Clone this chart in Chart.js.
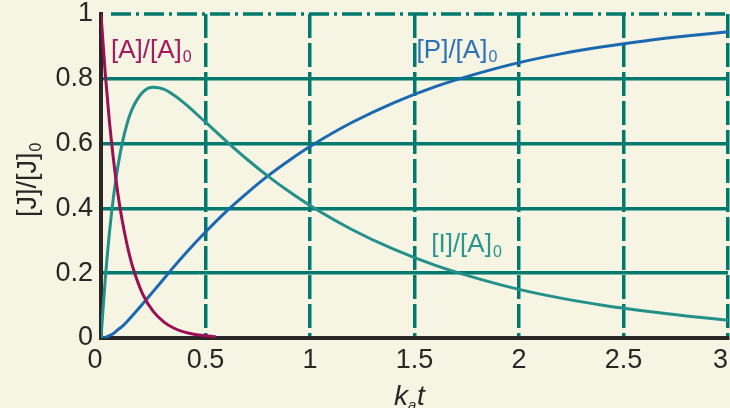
<!DOCTYPE html>
<html>
<head>
<meta charset="utf-8">
<script src="https://cdn.jsdelivr.net/npm/chart.js@4.4.1/dist/chart.umd.min.js"></script>
<style>
    html, body { margin: 0; padding: 0; background: #f6f4e2; }
    #wrap { width: 730px; height: 408px; }
</style>
</head>
<body>
<div id="wrap"><canvas id="kinetics" width="730" height="408"></canvas></div>
<script>
// values
const timesA = [0, 0.02, 0.04, 0.06, 0.08, 0.1, 0.125, 0.15, 0.2, 0.25, 0.3, 0.35, 0.4, 0.45, 0.5, 0.55];
const fracA = [1, 0.819, 0.67, 0.549, 0.449, 0.368, 0.287, 0.223, 0.135, 0.082, 0.05, 0.03, 0.018, 0.011, 0.007, 0.004];

const timesIP = [0, 0.02, 0.04, 0.06, 0.08, 0.1, 0.125, 0.15, 0.2, 0.25, 0.3, 0.35, 0.4, 0.5, 0.6, 0.7, 0.8, 0.9,
    1.0, 1.2, 1.4, 1.6, 1.8, 2.0, 2.2, 2.4, 2.6, 2.8, 3.0];
const fracI = [0, 0.179, 0.323, 0.437, 0.526, 0.597, 0.662, 0.708, 0.759, 0.774, 0.768, 0.749, 0.724, 0.666, 0.607,
    0.551, 0.499, 0.452, 0.409, 0.335, 0.274, 0.224, 0.184, 0.15, 0.123, 0.101, 0.083, 0.068, 0.055];
const fracP = [0, 0.002, 0.007, 0.014, 0.025, 0.035, 0.051, 0.069, 0.106, 0.144, 0.182, 0.221, 0.258, 0.327, 0.391,
    0.448, 0.501, 0.548, 0.591, 0.665, 0.726, 0.776, 0.816, 0.85, 0.877, 0.899, 0.917, 0.932, 0.945];

const xTickLabels = ['0', '0.5', '1', '1.5', '2', '2.5', '3'];
const yTickLabels = ['0', '0.2', '0.4', '0.6', '0.8', '1'];

const teal = '#007a6e';
const ink = '#2a2626';
const tickFont = '27px "Liberation Sans", Arial, sans-serif';

function toPoints(xs, ys) {
    return xs.map((x, i) => ({ x: x, y: ys[i] }));
}

// text with a small subscript "0" at the end
function drawSubText(ctx, text, sub, x, y, size, color) {
    ctx.fillStyle = color;
    ctx.font = size + 'px "Liberation Sans", Arial, sans-serif';
    ctx.textAlign = 'left';
    ctx.textBaseline = 'alphabetic';
    ctx.fillText(text, x, y);
    const w = ctx.measureText(text).width;
    ctx.font = Math.round(size * 0.6) + 'px "Liberation Sans", Arial, sans-serif';
    ctx.fillText(sub, x + w + 1, y + size * 0.18);
    return w;
}

const decorations = {
    id: 'decorations',
    beforeDatasetsDraw(chart) {
        const { ctx, chartArea, scales } = chart;
        // dash-dot line at y = 1
        const yTop = scales.y.getPixelForValue(1);
        ctx.save();
        ctx.strokeStyle = teal;
        ctx.lineWidth = 3.5;
        ctx.setLineDash([20, 5, 3, 5]);
        ctx.beginPath();
        ctx.moveTo(chartArea.left + 10, yTop);
        ctx.lineTo(chartArea.right, yTop);
        ctx.stroke();
        ctx.restore();
    },
    afterDraw(chart) {
        const { ctx, chartArea, scales } = chart;
        ctx.save();

        // x tick labels
        ctx.fillStyle = ink;
        ctx.font = tickFont;
        ctx.textBaseline = 'top';
        xTickLabels.forEach((lbl, i) => {
            let px = scales.x.getPixelForValue(parseFloat(lbl));
            ctx.textAlign = 'center';
            if (i === 0) px -= 6;
            if (i === xTickLabels.length - 1) ctx.textAlign = 'right';
            ctx.fillText(lbl, px, chartArea.bottom + 9);
        });

        // x title
        ctx.fillStyle = ink;
        ctx.font = 'italic 28px "Liberation Sans", Arial, sans-serif';
        ctx.textAlign = 'left';
        ctx.textBaseline = 'alphabetic';
        ctx.fillText('k', 394, 405);
        const kw = ctx.measureText('k').width;
        ctx.font = 'italic 15px "Liberation Sans", Arial, sans-serif';
        ctx.fillText('a', 394 + kw, 410);
        ctx.font = 'italic 28px "Liberation Sans", Arial, sans-serif';
        ctx.fillText('t', 417, 405);

        // y title
        ctx.save();
        ctx.translate(36, 217);
        ctx.rotate(-Math.PI / 2);
        drawSubText(ctx, '[J]/[J]', '0', 0, 0, 27, ink);
        ctx.restore();

        // curve labels
        const lx = v => scales.x.getPixelForValue(v);
        const ly = v => scales.y.getPixelForValue(v);
        drawSubText(ctx, '[A]/[A]', '0', lx(0.048), ly(0.865), 26, '#a31a60');
        drawSubText(ctx, '[P]/[A]', '0', lx(1.51), ly(0.865), 26, '#2d72b6');
        drawSubText(ctx, '[I]/[A]', '0', lx(1.58), ly(0.265), 26, '#2a968f');

        ctx.restore();
    }
};

new Chart(document.getElementById('kinetics'), {
    type: 'scatter',
    data: {
        datasets: [
            {
                label: '[A]/[A]0',
                data: toPoints(timesA, fracA),
                showLine: true,
                borderColor: '#9b0f55',
                borderWidth: 3,
                pointRadius: 0,
                cubicInterpolationMode: 'monotone'
            },
            {
                label: '[I]/[A]0',
                data: toPoints(timesIP, fracI),
                showLine: true,
                borderColor: '#24908a',
                borderWidth: 3,
                pointRadius: 0,
                cubicInterpolationMode: 'monotone'
            },
            {
                label: '[P]/[A]0',
                data: toPoints(timesIP, fracP),
                showLine: true,
                borderColor: '#1a68b0',
                borderWidth: 3,
                pointRadius: 0,
                cubicInterpolationMode: 'monotone'
            }
        ]
    },
    options: {
        responsive: false,
        animation: false,
        layout: { padding: { top: 14, right: 2, left: 0, bottom: 0 } },
        plugins: {
            legend: { display: false },
            tooltip: { enabled: false }
        },
        scales: {
            x: {
                type: 'linear',
                min: 0,
                max: 3,
                ticks: { display: false, stepSize: 0.5 },
                grid: {
                    drawTicks: false,
                    lineWidth: 3.5,
                    color: ctx => (ctx.tick && ctx.tick.value === 0) ? 'rgba(0,0,0,0)' : teal
                },
                border: { display: true, color: ink, width: 4, dash: [24, 5] },
                afterFit(scale) {
                    scale.height = 70;
                    scale.paddingLeft = 0;
                    scale.paddingRight = 0;
                }
            },
            y: {
                min: 0,
                max: 1,
                afterBuildTicks(scale) {
                    scale.ticks = yTickLabels.map(s => ({ value: parseFloat(s) }));
                },
                ticks: {
                    color: ink,
                    padding: 8,
                    font: { family: '"Liberation Sans", Arial, sans-serif', size: 27 },
                    callback: (value, i) => yTickLabels[i]
                },
                grid: {
                    drawTicks: false,
                    lineWidth: 3.5,
                    color: ctx => (ctx.tick && (ctx.tick.value === 0 || ctx.tick.value === 1)) ? 'rgba(0,0,0,0)' : teal
                },
                border: { display: true, color: ink, width: 4 },
                afterFit(scale) {
                    scale.width = 101;
                    scale.paddingTop = 0;
                    scale.paddingBottom = 0;
                }
            }
        }
    },
    plugins: [decorations]
});
</script>
</body>
</html>
